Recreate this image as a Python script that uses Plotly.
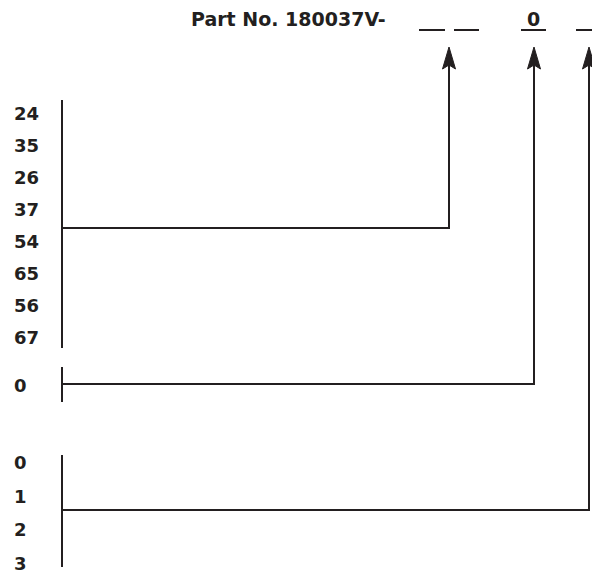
import plotly.graph_objects as go

# ---- data: part-number code options ----
title_text = "Part No. 180037V-"
fixed_digit = "0"
group_a_codes = ["24", "35", "26", "37", "54", "65", "56", "67"]
group_b_codes = ["0"]
group_c_codes = ["0", "1", "2", "3"]

# ---- layout constants (pixel coordinate system) ----
W, H = 592, 575
INK = "#231f20"
FONT = "DejaVu Sans"
LW = 2

label_x = 12
bracket_x = 62
arrow_x = [449, 534, 589]
arrow_tip_y = 47
head_len = 22
head_half = 6.5

groups = [
    dict(codes=group_a_codes, y0=113, step=32, top=100, bottom=348, join=228, ax=arrow_x[0]),
    dict(codes=group_b_codes, y0=385, step=32, top=367, bottom=402, join=384, ax=arrow_x[1]),
    dict(codes=group_c_codes, y0=462.5, step=33.5, top=455, bottom=567, join=510, ax=arrow_x[2]),
]

underscores = [(419, 445), (454, 479), (521, 546), (576, 592)]
underscore_y = 30

fig = go.Figure()
shapes = []
annotations = []

# title
annotations.append(dict(x=388, y=19, text="<b>%s</b>" % title_text, xanchor="right", yanchor="middle",
                        showarrow=False, font=dict(family=FONT, size=19, color=INK)))
annotations.append(dict(x=533.5, y=19, text="<b>%s</b>" % fixed_digit, xanchor="center", yanchor="middle",
                        showarrow=False, font=dict(family=FONT, size=19, color=INK)))
for x0, x1 in underscores:
    shapes.append(dict(type="line", x0=x0, x1=x1, y0=underscore_y, y1=underscore_y,
                       line=dict(color=INK, width=LW)))

for g in groups:
    for i, c in enumerate(g["codes"]):
        annotations.append(dict(x=label_x, y=g["y0"] + i * g["step"], text="<b>%s</b>" % c,
                                xanchor="left", yanchor="middle", showarrow=False,
                                font=dict(family=FONT, size=18, color=INK)))
    # bracket
    shapes.append(dict(type="line", x0=bracket_x, x1=bracket_x, y0=g["top"], y1=g["bottom"],
                       line=dict(color=INK, width=LW)))
    # connector: horizontal then vertical up to arrow
    ax = g["ax"]
    shapes.append(dict(type="path",
                       path="M %s %s L %s %s L %s %s" % (bracket_x, g["join"], ax, g["join"], ax, arrow_tip_y + head_len - 4),
                       line=dict(color=INK, width=LW)))
    # arrowhead
    shapes.append(dict(type="path",
                       path="M %s %s L %s %s L %s %s L %s %s Z" % (
                           ax, arrow_tip_y, ax + head_half, arrow_tip_y + head_len,
                           ax, arrow_tip_y + head_len - 4, ax - head_half, arrow_tip_y + head_len),
                       fillcolor=INK, line=dict(color=INK, width=1)))

fig.add_trace(go.Scatter(x=[0, W], y=[0, H], mode="markers", marker=dict(opacity=0), hoverinfo="skip",
                         showlegend=False))

fig.update_layout(
    width=W, height=H, margin=dict(l=0, r=0, t=0, b=0),
    paper_bgcolor="white", plot_bgcolor="white",
    xaxis=dict(range=[0, W], visible=False, fixedrange=True),
    yaxis=dict(range=[H, 0], visible=False, fixedrange=True),
    shapes=shapes, annotations=annotations, showlegend=False,
)

fig.write_html("out.html", config=dict(displayModeBar=False),
               post_script="document.body.style.margin='0';document.body.style.overflow='hidden';")
